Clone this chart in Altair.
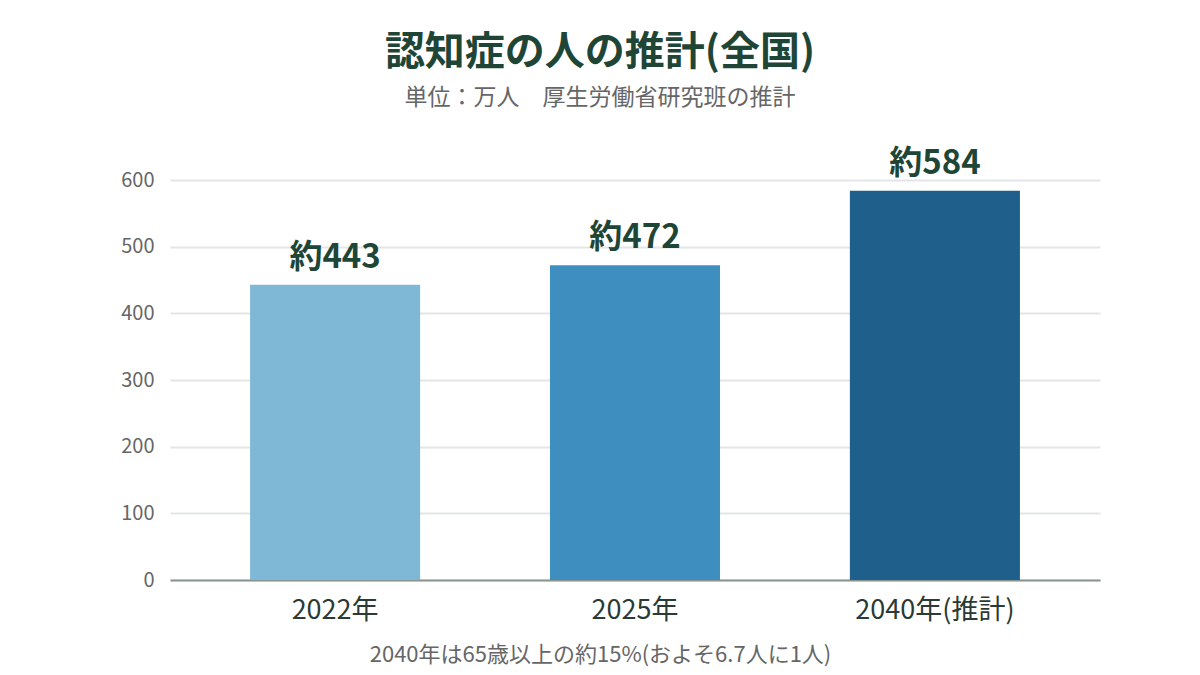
import altair as alt
import pandas as pd

years = ["2022年", "2025年", "2040年(推計)"]
values = [443, 472, 584]
labels = ["約443", "約472", "約584"]
colors = ["#7fb8d6", "#3e8fc0", "#1f5f8b"]

FONT = "Noto Sans CJK JP"

df = pd.DataFrame({"year": years, "value": values, "label": labels})

x = alt.X(
    "year:N",
    sort=years,
    scale=alt.Scale(paddingInner=0.433, paddingOuter=0.267),
    axis=alt.Axis(
        title="2040年は65歳以上の約15%(およそ6.7人に1人)",
        titleFont=FONT,
        titleFontSize=22,
        titleFontWeight="normal",
        titleColor="#666666",
        titleX=430,
        titlePadding=21,
        labelFont=FONT,
        labelFontSize=27,
        labelColor="#2a3a34",
        labelAngle=0,
        labelPadding=17,
        ticks=False,
        grid=False,
        domainColor="#8a9490",
        domainWidth=2,
    ),
)
y = alt.Y(
    "value:Q",
    scale=alt.Scale(domain=[0, 600]),
    axis=alt.Axis(
        title=None,
        values=[0, 100, 200, 300, 400, 500, 600],
        labelFont=FONT,
        labelFontSize=20,
        labelColor="#666666",
        labelPadding=16,
        ticks=False,
        domain=False,
        gridColor="#e3e6e6",
        gridWidth=2,
    ),
)

bars = alt.Chart(df).mark_bar().encode(
    x=x,
    y=y,
    color=alt.Color("year:N", scale=alt.Scale(domain=years, range=colors), legend=None),
)
text = alt.Chart(df).mark_text(
    font=FONT, fontSize=33, fontWeight="bold", color="#1e4536", baseline="bottom", dy=-10
).encode(x=alt.X("year:N", sort=years), y="value:Q", text="label:N")

chart = (
    alt.layer(bars, text)
    .properties(
        width=930,
        height=400,
        background="white",
        autosize=alt.AutoSizeParams(type="none"),
        padding={"left": 162, "top": 172, "right": 92, "bottom": 95},
        title=alt.TitleParams(
            text="認知症の人の推計(全国)",
            subtitle="単位：万人　厚生労働省研究班の推計",
            font=FONT,
            fontSize=40,
            fontWeight="bold",
            color="#1e4536",
            subtitleFont=FONT,
            subtitleFontSize=23,
            subtitleColor="#666666",
            subtitlePadding=14,
            anchor="middle",
            dx=-35,
            offset=38,
        ),
    )
    .configure_view(stroke="transparent", strokeWidth=0)
)

chart.save("out.html", embed_options={"renderer": "svg", "actions": False})
